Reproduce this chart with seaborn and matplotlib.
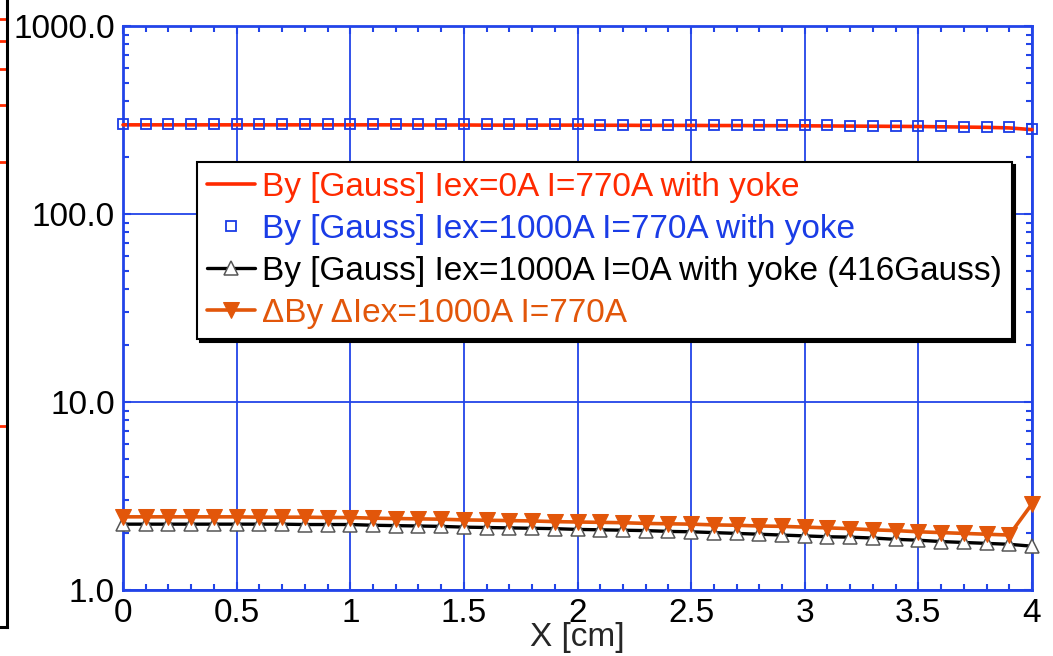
import numpy as np
import pandas as pd
import seaborn as sns
import matplotlib
matplotlib.use("Agg")
import matplotlib.pyplot as plt
from matplotlib.ticker import LogLocator, MultipleLocator, FormatStrFormatter, NullFormatter

# ---------------- data ----------------
x_cm = [0.0, 0.1, 0.2, 0.3, 0.4, 0.5, 0.6, 0.7, 0.8, 0.9,
        1.0, 1.1, 1.2, 1.3, 1.4, 1.5, 1.6, 1.7, 1.8, 1.9,
        2.0, 2.1, 2.2, 2.3, 2.4, 2.5, 2.6, 2.7, 2.8, 2.9,
        3.0, 3.1, 3.2, 3.3, 3.4, 3.5, 3.6, 3.7, 3.8, 3.9, 4.0]

by_iex0_i770 = [298, 298, 298, 298, 298, 298, 298, 298, 298, 298,
                298, 298, 298, 297.5, 297.5, 297.5, 297, 297, 297, 297,
                297, 296.5, 296.5, 296, 296, 296, 295.5, 295.5, 295, 295,
                294.5, 294, 293.5, 293, 292.5, 292, 291, 290, 289, 287, 281]

by_iex1000_i770 = [300.4, 300.4, 300.4, 300.4, 300.4, 300.4, 300.4, 300.4, 300.4, 300.4,
                   300.4, 300.4, 300.4, 299.9, 299.9, 299.8, 299.3, 299.3, 299.3, 299.3,
                   299.3, 298.8, 298.8, 298.3, 298.2, 298.2, 297.7, 297.7, 297.2, 297.2,
                   296.7, 296.1, 295.6, 295.1, 294.6, 294.0, 293.0, 292.0, 291.0, 289.0, 284.0]

by_iex1000_i0 = [2.24, 2.24, 2.24, 2.24, 2.24, 2.24, 2.24, 2.24, 2.23, 2.23,
                 2.23, 2.21, 2.20, 2.19, 2.18, 2.16, 2.15, 2.14, 2.13, 2.12,
                 2.10, 2.09, 2.08, 2.07, 2.05, 2.04, 2.02, 2.00, 1.98, 1.96,
                 1.94, 1.92, 1.91, 1.89, 1.86, 1.84, 1.81, 1.79, 1.77, 1.75, 1.71]

delta_by = [2.45, 2.45, 2.45, 2.45, 2.45, 2.45, 2.44, 2.44, 2.44, 2.43,
            2.43, 2.41, 2.40, 2.39, 2.38, 2.36, 2.35, 2.34, 2.33, 2.31,
            2.30, 2.29, 2.28, 2.26, 2.25, 2.24, 2.22, 2.21, 2.19, 2.18,
            2.16, 2.14, 2.12, 2.09, 2.07, 2.04, 2.02, 2.00, 1.98, 1.96, 2.87]

labels = ["By [Gauss] Iex=0A I=770A with yoke",
          "By [Gauss] Iex=1000A I=770A with yoke",
          "By [Gauss] Iex=1000A I=0A with yoke (416Gauss)",
          "\u0394By \u0394Iex=1000A I=770A"]

x_ticks = [0, 0.5, 1, 1.5, 2, 2.5, 3, 3.5, 4]
x_tick_labels = ["0", "0.5", "1", "1.5", "2", "2.5", "3", "3.5", "4"]
y_ticks = [1, 10, 100, 1000]
x_label = "X [cm]"

# decorative ticks of the cropped neighbouring frame (fraction of its height)
side_ticks = [0.927, 0.893, 0.851, 0.796, 0.709, 0.306]

# ---------------- style ----------------
sns.set_theme(style="white")
plt.rcParams['font.family'] = ['Liberation Sans', 'DejaVu Sans']

RED = "#FF2A00"
BLUE = "#1A3CE6"
BLACK = "#000000"
ORANGE = "#E2560A"
GRID = "#2244E8"

fig = plt.figure(figsize=(10.53, 6.56), dpi=100)
ax = fig.add_axes([123 / 1053, 1 - 590 / 656, (1032 - 123) / 1053, (590 - 26) / 656])

df = pd.DataFrame({"x": x_cm, "a": by_iex0_i770, "b": by_iex1000_i770,
                   "c": by_iex1000_i0, "d": delta_by})

sns.lineplot(data=df, x="x", y="a", ax=ax, color=RED, lw=2.6, label=labels[0],
             clip_on=False, zorder=4)
sns.lineplot(data=df, x="x", y="b", ax=ax, color=BLUE, linestyle="none", marker="s",
             markersize=7, markerfacecolor="none", markeredgecolor=BLUE,
             markeredgewidth=1.3, label=labels[1], clip_on=False, zorder=5)
sns.lineplot(data=df, x="x", y="c", ax=ax, color=BLACK, lw=2.4, marker="^",
             markersize=10, markerfacecolor="white", markeredgecolor="#555555",
             markeredgewidth=1.1, label=labels[2], clip_on=False, zorder=4)
sns.lineplot(data=df, x="x", y="d", ax=ax, color=ORANGE, lw=2.6, marker="v",
             markersize=11, markerfacecolor=ORANGE, markeredgecolor=ORANGE,
             label=labels[3], clip_on=False, zorder=5)

ax.set_yscale("log")
ax.set_xlim(0, 4)
ax.set_ylim(1, 1000)
ax.set_xticks(x_ticks)
ax.set_xticklabels(x_tick_labels)
ax.set_yticks(y_ticks)
ax.yaxis.set_major_formatter(FormatStrFormatter("%.1f"))
ax.yaxis.set_minor_locator(LogLocator(base=10, subs=np.arange(2, 10)))
ax.yaxis.set_minor_formatter(NullFormatter())
ax.xaxis.set_minor_locator(MultipleLocator(0.1))

ax.grid(True, which="major", color=GRID, lw=1.3)
for s in ax.spines.values():
    s.set_color(GRID)
    s.set_linewidth(2)
    s.set_visible(True)
ax.tick_params(axis="both", which="both", direction="in", colors=GRID,
               top=True, right=True, bottom=True, left=True, labelcolor="black",
               labelsize=24)
ax.tick_params(which="major", length=6, width=1.5)
ax.tick_params(which="minor", length=4, width=1.5)
ax.tick_params(axis="y", which="major", pad=6)
ax.tick_params(axis="x", which="major", pad=6)

ax.set_xlabel(x_label, fontsize=24, labelpad=-5)
ax.set_ylabel("")

leg = ax.legend(loc="upper left", bbox_to_anchor=(0.0814, 0.759), borderaxespad=0,
                fontsize=24, frameon=True, fancybox=False,
                shadow={"color": "black", "alpha": 1.0},
                handlelength=1.45, handletextpad=0.2, labelspacing=0.33,
                borderpad=0.3)
frame = leg.get_frame()
frame.set_edgecolor("black")
frame.set_linewidth(1.5)
frame.set_facecolor("white")
frame.set_alpha(1)
leg.set_zorder(10)
for txt, col in zip(leg.get_texts(), [RED, BLUE, BLACK, ORANGE]):
    txt.set_color(col)

# ---------------- cropped neighbouring frame at far left ----------------
deco = fig.add_axes([-0.1, 1 - 627 / 656, 0.1 + 7 / 1053, 1.0])
deco.set_xlim(0, 1)
deco.set_ylim(0, 1)
deco.set_facecolor("none")
for name, s in deco.spines.items():
    s.set_visible(name in ("right", "bottom"))
    s.set_color("black")
    s.set_linewidth(2.2)
deco.set_yticks(side_ticks)
deco.set_xticks([])
deco.yaxis.tick_right()
deco.tick_params(axis="y", direction="in", length=6, width=2, colors="#FF2A00",
                 labelright=False, labelleft=False)

fig.savefig("out.png", dpi=100)
